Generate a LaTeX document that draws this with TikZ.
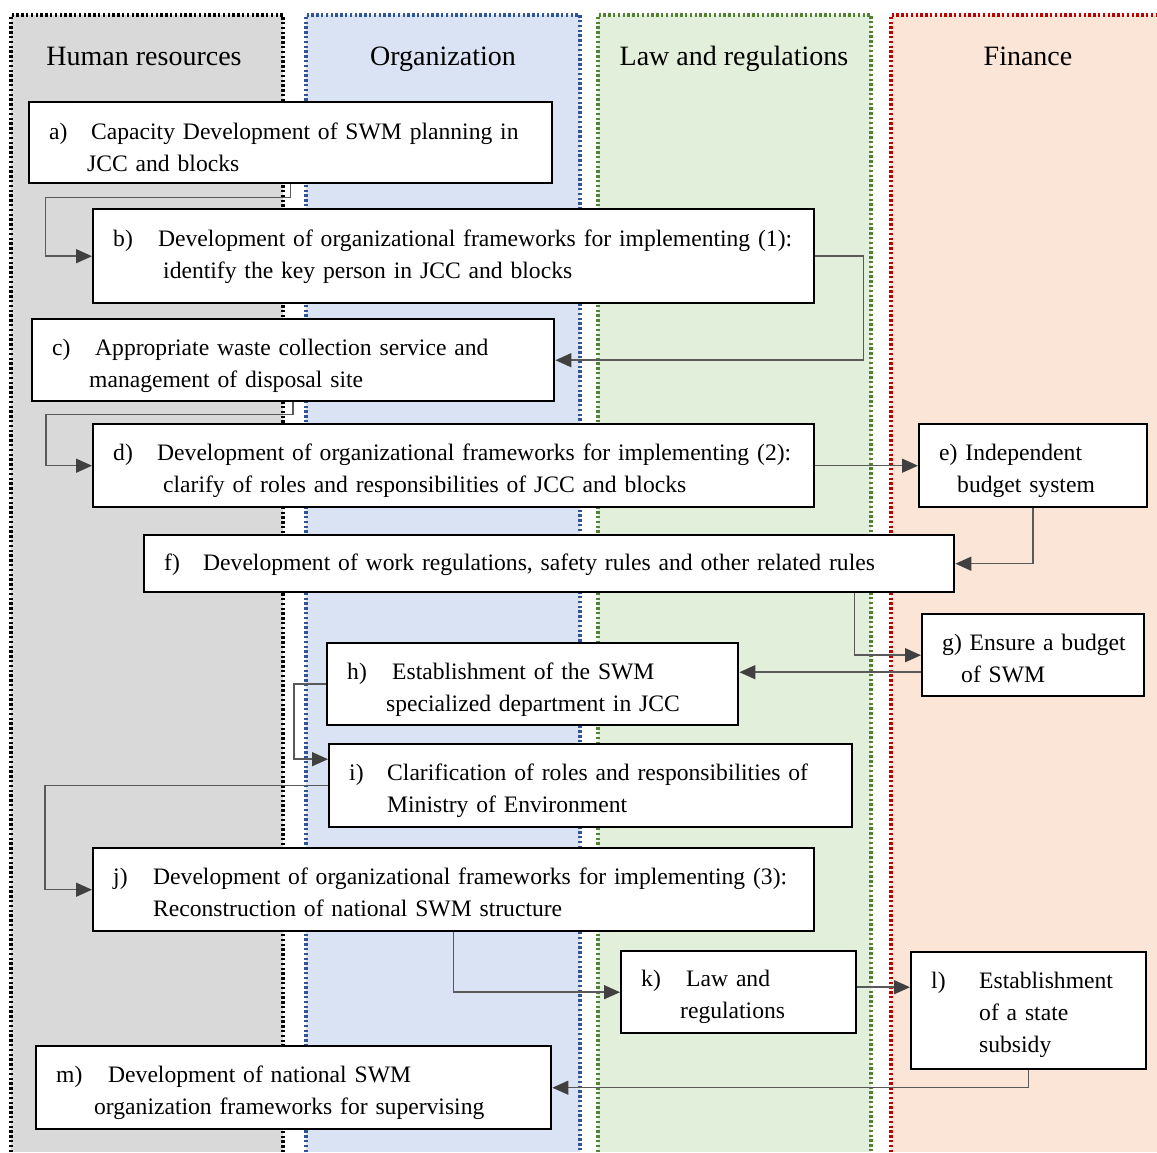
\documentclass[tikz,border=0pt]{standalone}
\usepackage{fontspec}
\setmainfont{Liberation Serif}
\usepackage{xcolor}
\definecolor{cHR}{HTML}{D9D9D9}
\definecolor{cOrg}{HTML}{DAE3F3}
\definecolor{cLaw}{HTML}{E2EFDA}
\definecolor{cFin}{HTML}{FBE5D6}
\definecolor{cOrgLine}{HTML}{2F5597}
\definecolor{cLawLine}{HTML}{548235}
\definecolor{cFinLine}{HTML}{C00000}
\definecolor{cLink}{HTML}{595959}
\definecolor{cTip}{HTML}{404040}
\usetikzlibrary{arrows.meta,calc}
\newcommand{\blab}[2]{\makebox[#1][l]{#2}}
\newcommand{\steplines}[2][-2pt]{\raisebox{#1}[\height][\depth]{\begin{tabular}{@{}l@{}}#2\end{tabular}}}
\tikzset{
  lane/.style 2 args={fill=#1,draw=#2,line width=1.6pt,dash pattern=on 1.2pt off 1.2pt},
  lane-title/.style={anchor=base,font=\fontsize{14}{16}\selectfont},
  node-step/.style={draw=black,line width=1.2pt,fill=white,anchor=north west,
    align=left,inner xsep=10pt,inner ysep=0pt,font=\fontsize{11.8}{16}\selectfont},
  arrow/.style={-{Triangle[length=8pt,width=7pt,color=cTip]},line width=0.75pt,draw=cLink},
}

\begin{document}
\begin{tikzpicture}[x=0.5pt,y=-0.5pt]
  \useasboundingbox (0,0) rectangle (1157,1152);
  % lanes
  \path[lane={cHR}{black}]       (11,1152)  |- (283,15)  -- (283,1152);
  \path[lane={cOrg}{cOrgLine}]   (306,1152) |- (580,15)  -- (580,1152);
  \path[lane={cLaw}{cLawLine}]   (598,1152) |- (871,15)  -- (871,1152);
  \path[lane={cFin}{cFinLine}]   (891,1152) |- (1170,15) -- (1170,1152);
  \node[lane-title] (hrT)  at (144,65)  {Human resources};
  \node[lane-title] (orgT) at (443,65)  {Organization};
  \node[lane-title] (lawT) at (734,65)  {Law and regulations};
  \node[lane-title] (finT) at (1028,65) {Finance};

  % steps
  \node[node-step,text width=241.5pt,minimum height=40.5pt] (a) at (28,101)
    {\steplines[-3pt]{\blab{21pt}{a)}Capacity Development of SWM planning in\\\hspace*{19pt}JCC and blocks}};
  \node[node-step,text width=340.5pt,minimum height=47pt] (b) at (92,208)
    {\steplines[0pt]{\blab{22.5pt}{b)}Development of organizational frameworks for implementing (1):\\\hspace*{25pt}identify the key person in JCC and blocks}};
  \node[node-step,text width=241pt,minimum height=41pt] (c) at (31,318)
    {\steplines[-2.5pt]{\blab{21.5pt}{c)}Appropriate waste collection service and\\\hspace*{18.5pt}management of disposal site}};
  \node[node-step,text width=340.5pt,minimum height=41.5pt] (d) at (92,423)
    {\steplines{\blab{22pt}{d)}Development of organizational frameworks for implementing (2):\\\hspace*{25pt}clarify of roles and responsibilities of JCC and blocks}};
  \node[node-step,text width=94pt,minimum height=41.5pt] (e) at (918,423)
    {\steplines{e) Independent\\\hspace*{9pt}budget system}};
  \node[node-step,text width=385pt,minimum height=28.5pt] (f) at (143,534)
    {\steplines[0pt]{\blab{19.5pt}{f)}Development of work regulations, safety rules and other related rules}};
  \node[node-step,text width=91pt,minimum height=41pt] (g) at (921,613)
    {\steplines[-2.5pt]{g) Ensure a budget\\\hspace*{9.5pt}of SWM}};
  \node[node-step,text width=185.5pt,minimum height=41pt] (h) at (326,642)
    {\steplines[-2.5pt]{\blab{22.5pt}{h)}Establishment of the SWM\\\hspace*{19.5pt}specialized department in JCC}};
  \node[node-step,text width=241.5pt,minimum height=41.5pt] (i) at (328,743)
    {\steplines{\blab{19pt}{i)}Clarification of roles and responsibilities of\\\hspace*{19pt}Ministry of Environment}};
  \node[node-step,text width=340.5pt,minimum height=41.5pt] (j) at (92,847)
    {\steplines{\blab{20pt}{j)}Development of organizational frameworks for implementing (3):\\\hspace*{20pt}Reconstruction of national SWM structure}};
  \node[node-step,text width=97.5pt,minimum height=41pt] (k) at (620,950)
    {\steplines{\blab{22.5pt}{k)}Law and\\\hspace*{19.5pt}regulations}};
  \node[node-step,text width=97.5pt,minimum height=58.5pt] (l) at (910,951)
    {\steplines[-1.5pt]{\blab{24pt}{l)}Establishment\\\hspace*{24pt}of a state\\\hspace*{24pt}subsidy}};
  \node[node-step,text width=237.5pt,minimum height=41.5pt] (m) at (35,1045)
    {\steplines{\blab{26pt}{m)}Development of national SWM\\\hspace*{19pt}organization frameworks for supervising}};

  % links
  \coordinate (gh) at ($(g.west)+(0,17)$);
  \coordinate (kl) at ($(k.east)+(0,-5)$);
  \draw[arrow] (a.south) |- ++(-245,13) |- (b.west);
  \draw[arrow] (b.east) -- ++(48,0) |- (c.east);
  \draw[arrow] (c.south) |- ++(-247,12) |- (d.west);
  \draw[arrow] (d.east) -- (e.west);
  \draw[arrow] (e.south) |- (f.east);
  \draw[arrow] ($(f.south east)+(-101,0)$) |- (g.west);
  \draw[arrow] (gh) -- (gh -| h.east);
  \draw[arrow] (h.west) -- ++(-32,0) |- ($(i.west)+(0,-26.5)$);
  \draw[arrow] (i.west) -- ++(-283,0) |- (j.west);
  \draw[arrow] (j.south) |- (k.west);
  \draw[arrow] (kl) -- (kl -| l.west);
  \draw[arrow] (l.south) |- (m.east);
\end{tikzpicture}
\end{document}
